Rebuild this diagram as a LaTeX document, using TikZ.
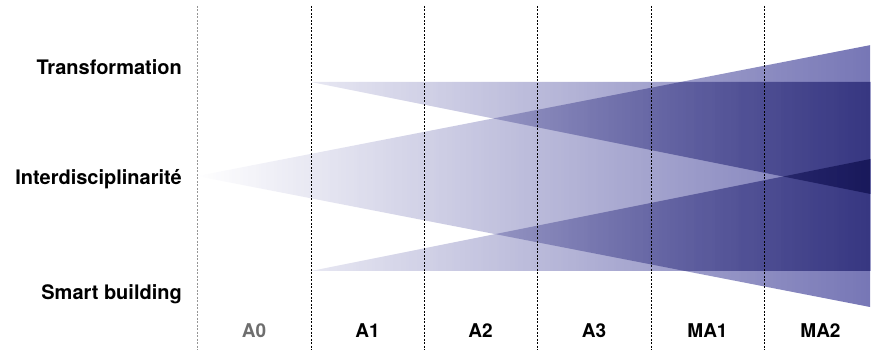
\documentclass[tikz,border=0pt]{standalone}
\usepackage{fontspec}
\setmainfont{TeX Gyre Heros}
\usetikzlibrary{fadings}
\definecolor{wedgeblue}{RGB}{60, 60, 150}
\definecolor{gridgray}{RGB}{150, 150, 150}
\definecolor{labelgray}{RGB}{110, 110, 110}
\tikzfading[name=fadefull, left color=transparent!100, right color=transparent!0]
\tikzfading[name=fadepart, left color=transparent!83, right color=transparent!0]
\tikzset{
  rowlabel/.style={anchor=base east, inner sep=0pt, font=\fontsize{20}{24}\selectfont\bfseries},
  collabel/.style={anchor=base, inner sep=0pt, font=\fontsize{19}{23}\selectfont\bfseries},
  gridline/.style={line width=0.8pt, dash pattern=on 2pt off 1.5pt},
  wedge/.style={fill=wedgeblue, fill opacity=0.7, blend mode=multiply},
}

\begin{document}
\begin{tikzpicture}[x=1pt, y=-1pt]
  \useasboundingbox (0,0) rectangle (871,350);
  % wedges
  \fill[wedge, path fading=fadefull] (197,176) -- (871,45) -- (871,307) -- cycle;
  \fill[wedge, path fading=fadepart] (311,82) -- (871,82) -- (871,194) -- cycle;
  \fill[wedge, path fading=fadepart] (311,271) -- (871,271) -- (871,159) -- cycle;
  % year separators
  \draw[gridline, gridgray] (197,6) -- (197,350);
  \foreach \x in {311, 424, 537, 651, 764}
    \draw[gridline] (\x,6) -- (\x,350);
  % rows
  \node[rowlabel] (trans) at (182,75) {Transformation};
  \node[rowlabel] (inter) at (182,185) {Interdisciplinarité};
  \node[rowlabel] (smart) at (182,299) {Smart building};
  % years
  \node[collabel, labelgray] (a0) at (254,337) {A0};
  \node[collabel] (a1) at (367.5,337) {A1};
  \node[collabel] (a2) at (480.5,337) {A2};
  \node[collabel] (a3) at (594,337) {A3};
  \node[collabel] (ma1) at (707.5,337) {MA1};
  \node[collabel] (ma2) at (820.5,337) {MA2};
\end{tikzpicture}
\end{document}
